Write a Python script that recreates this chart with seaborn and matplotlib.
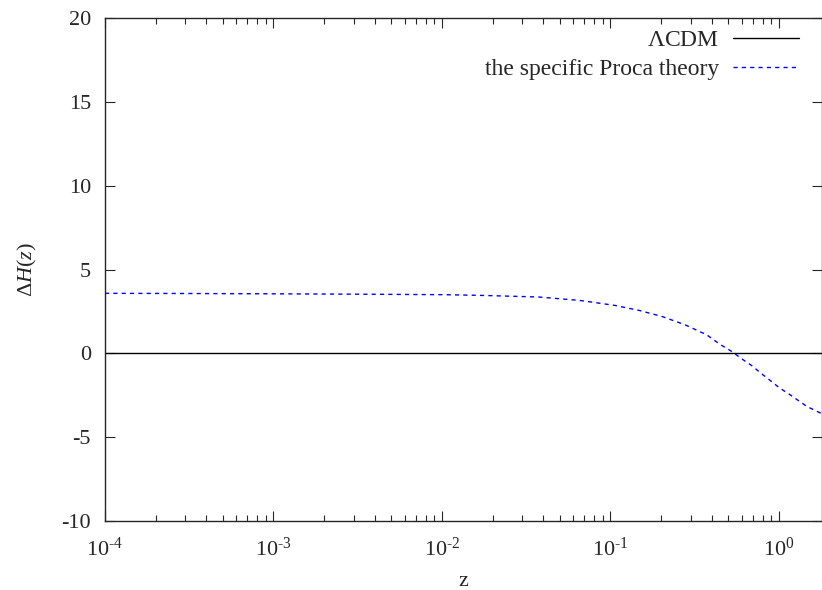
import numpy as np
import pandas as pd
import seaborn as sns
import matplotlib
matplotlib.use("Agg")
import matplotlib.pyplot as plt
from matplotlib.ticker import LogLocator, FixedLocator, FuncFormatter

# данные
z_vals = [1e-4, 3e-4, 1e-3, 3e-3, 1e-2, 0.0167, 0.0376, 0.065, 0.0771, 0.106,
          0.148, 0.202, 0.276, 0.372, 0.446, 0.523, 0.600, 0.689, 0.778, 0.885,
          1.01, 1.16, 1.46, 1.68, 1.8]
dH_proca = [3.58, 3.57, 3.55, 3.53, 3.50, 3.46, 3.36, 3.16, 3.06, 2.86,
            2.56, 2.20, 1.71, 1.11, 0.54, 0.12, -0.32, -0.73, -1.17, -1.61,
            -2.07, -2.46, -3.16, -3.46, -3.6]
dH_lcdm = [0.0] * len(z_vals)

df = pd.DataFrame({"z": z_vals, "proca": dH_proca, "lcdm": dH_lcdm})

sns.set_style("ticks")
plt.rcParams['font.family'] = ['Liberation Serif', 'DejaVu Serif']
plt.rcParams['mathtext.fontset'] = 'custom'
plt.rcParams['mathtext.rm'] = 'Liberation Serif'
plt.rcParams['mathtext.it'] = 'Liberation Serif:italic'

fig = plt.figure(figsize=(8.22, 5.9), dpi=100)
ax = fig.add_axes([0.1277, 0.1169, 0.8723, 0.8526])

sns.lineplot(data=df, x="z", y="lcdm", ax=ax, color="black", lw=1.0, label=r"$\Lambda$CDM")
sns.lineplot(data=df, x="z", y="proca", ax=ax, color="blue", lw=1.0,
             label="the specific Proca theory")
ax.lines[1].set_dashes([3, 3])

ax.set_xscale("log")
ax.set_xlim(1e-4, 1.8)
ax.set_ylim(-10, 20)
ax.yaxis.set_major_locator(FixedLocator([-10, -5, 0, 5, 10, 15, 20]))
ax.set_yticklabels(["-10", "-5", "0", "5", "10", "15", "20"])
ax.xaxis.set_major_locator(LogLocator(base=10, numticks=10))
ax.xaxis.set_minor_locator(LogLocator(base=10, subs=np.arange(2, 10), numticks=20))
# подписи вида 10^-4 с обычным дефисом, как в gnuplot
ax.xaxis.set_major_formatter(FuncFormatter(
    lambda v, p: r"10$^{\text{%d}}$" % int(round(np.log10(v)))))

ax.tick_params(which="both", direction="in", top=True, right=True, labelsize=16)
ax.tick_params(axis="x", pad=12)
ax.tick_params(axis="y", pad=10)
ax.tick_params(which="major", length=7, width=0.8)
ax.tick_params(which="minor", length=4, width=0.8)
for s in ax.spines.values():
    s.set_linewidth(1.0)

ax.set_xlabel("z", fontsize=16, labelpad=8)
ax.set_ylabel(r"$\Delta H(z)$", fontsize=16, labelpad=16)

leg = ax.legend(loc="upper right", frameon=False, markerfirst=False, fontsize=17,
                handlelength=2.8, handletextpad=0.6, borderaxespad=0.1,
                labelspacing=0.3, bbox_to_anchor=(0.985, 1.0))
for t in leg.get_texts():
    t.set_ha("right")

fig.savefig("out.png", dpi=100)
